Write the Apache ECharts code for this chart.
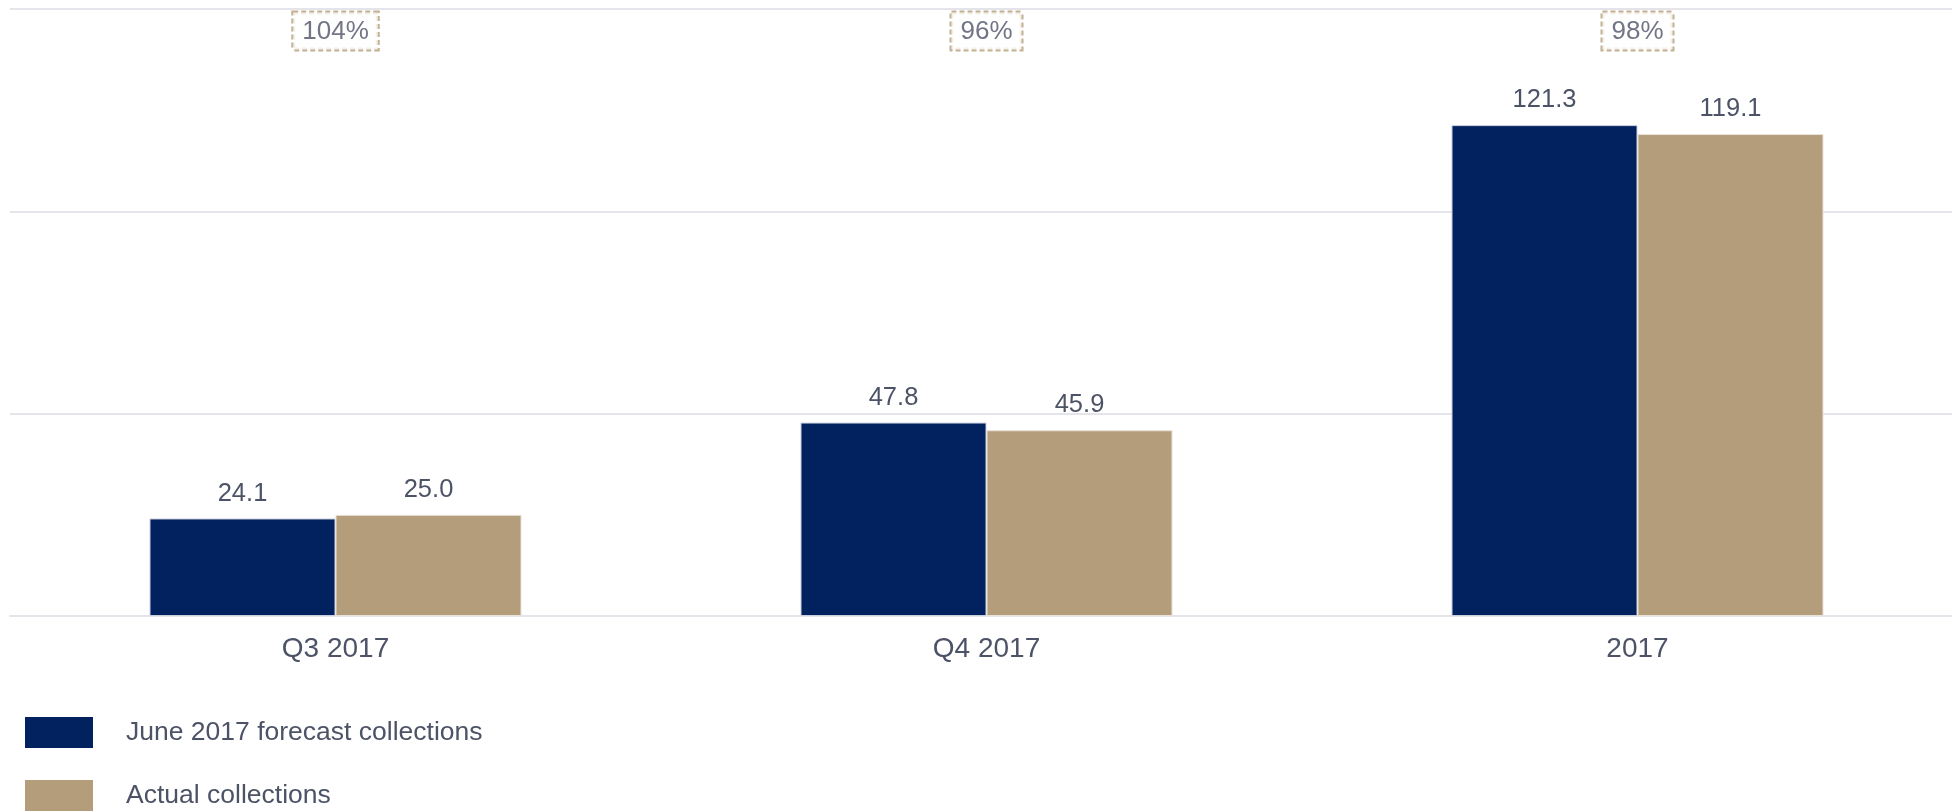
<!DOCTYPE html>
<html>
<head>
<meta charset="utf-8">
<script src="https://cdn.jsdelivr.net/npm/echarts@6/dist/echarts.min.js"></script>
<style>
    html, body { margin: 0; padding: 0; background: #ffffff; overflow: hidden; }
    #chart { width: 1966px; height: 811px; }
</style>
</head>
<body>
<div id="chart"></div>
<script>
var categories = ['Q3 2017', 'Q4 2017', '2017'];
var forecast = [24.1, 47.8, 121.3];
var actual = [25.0, 45.9, 119.1];
var ratioLabels = ['104%', '96%', '98%'];
var ratioLevel = [150, 150, 150]; // boxes sit on the top gridline

var textColor = '#4d5367';
var navy = '#02215f';
var tan = '#b49d7b';

// the plot runs a little past the right edge of the window
var myChart = echarts.init(document.getElementById('chart'));

var option = {
    animation: false,
    textStyle: { fontFamily: 'Liberation Sans, Arial, sans-serif' },
    grid: { left: 10, width: 1953, top: 9, height: 607, containLabel: false },
    legend: {
        orient: 'vertical',
        left: 25,
        top: 717,
        height: 200,
        padding: 0,
        icon: 'rect',
        itemWidth: 68,
        itemHeight: 31,
        itemGap: 32,
        itemStyle: { borderWidth: 0 },
        data: ['June 2017 forecast collections', 'Actual collections'],
        textStyle: { color: textColor, fontSize: 26.5, padding: [0, 0, 0, 28] }
    },
    xAxis: {
        type: 'category',
        data: categories,
        axisTick: { show: false },
        axisLine: { lineStyle: { color: '#e4e4ea', width: 2 } },
        axisLabel: { color: textColor, fontSize: 28, margin: 19 }
    },
    yAxis: {
        type: 'value',
        min: 0,
        max: 150,
        interval: 50,
        axisLabel: { show: false },
        axisLine: { show: false },
        axisTick: { show: false },
        splitLine: { lineStyle: { color: '#e4e4ea', width: 2 } }
    },
    series: [{
        name: 'June 2017 forecast collections',
        type: 'bar',
        data: forecast,
        barWidth: 186,
        barGap: '0%',
        itemStyle: { color: navy, borderColor: '#c9cfdc', borderWidth: 1 },
        label: {
            show: true,
            position: 'top',
            distance: 12,
            color: textColor,
            fontSize: 25.5,
            formatter: function(p) { return p.value.toFixed(1); }
        }
    }, {
        name: 'Actual collections',
        type: 'bar',
        data: actual,
        barWidth: 186,
        barGap: '0%',
        itemStyle: { color: tan, borderColor: '#e8e2d8', borderWidth: 1 },
        label: {
            show: true,
            position: 'top',
            distance: 12,
            color: textColor,
            fontSize: 25.5,
            formatter: function(p) { return p.value.toFixed(1); }
        }
    }, {
        name: 'ratio',
        type: 'scatter',
        data: ratioLevel,
        symbolSize: 1,
        itemStyle: { color: 'rgba(0,0,0,0)' },
        silent: true,
        z: 5,
        label: {
            show: true,
            position: 'bottom',
            distance: 3,
            color: textColor,
            fontSize: 26,
            backgroundColor: '#ffffff',
            borderColor: tan,
            borderWidth: 2,
            borderType: [5, 3],
            padding: [6, 9, 5, 9],
            formatter: function(p) { return ratioLabels[p.dataIndex]; }
        }
    }]
};

myChart.setOption(option);
</script>
</body>
</html>
